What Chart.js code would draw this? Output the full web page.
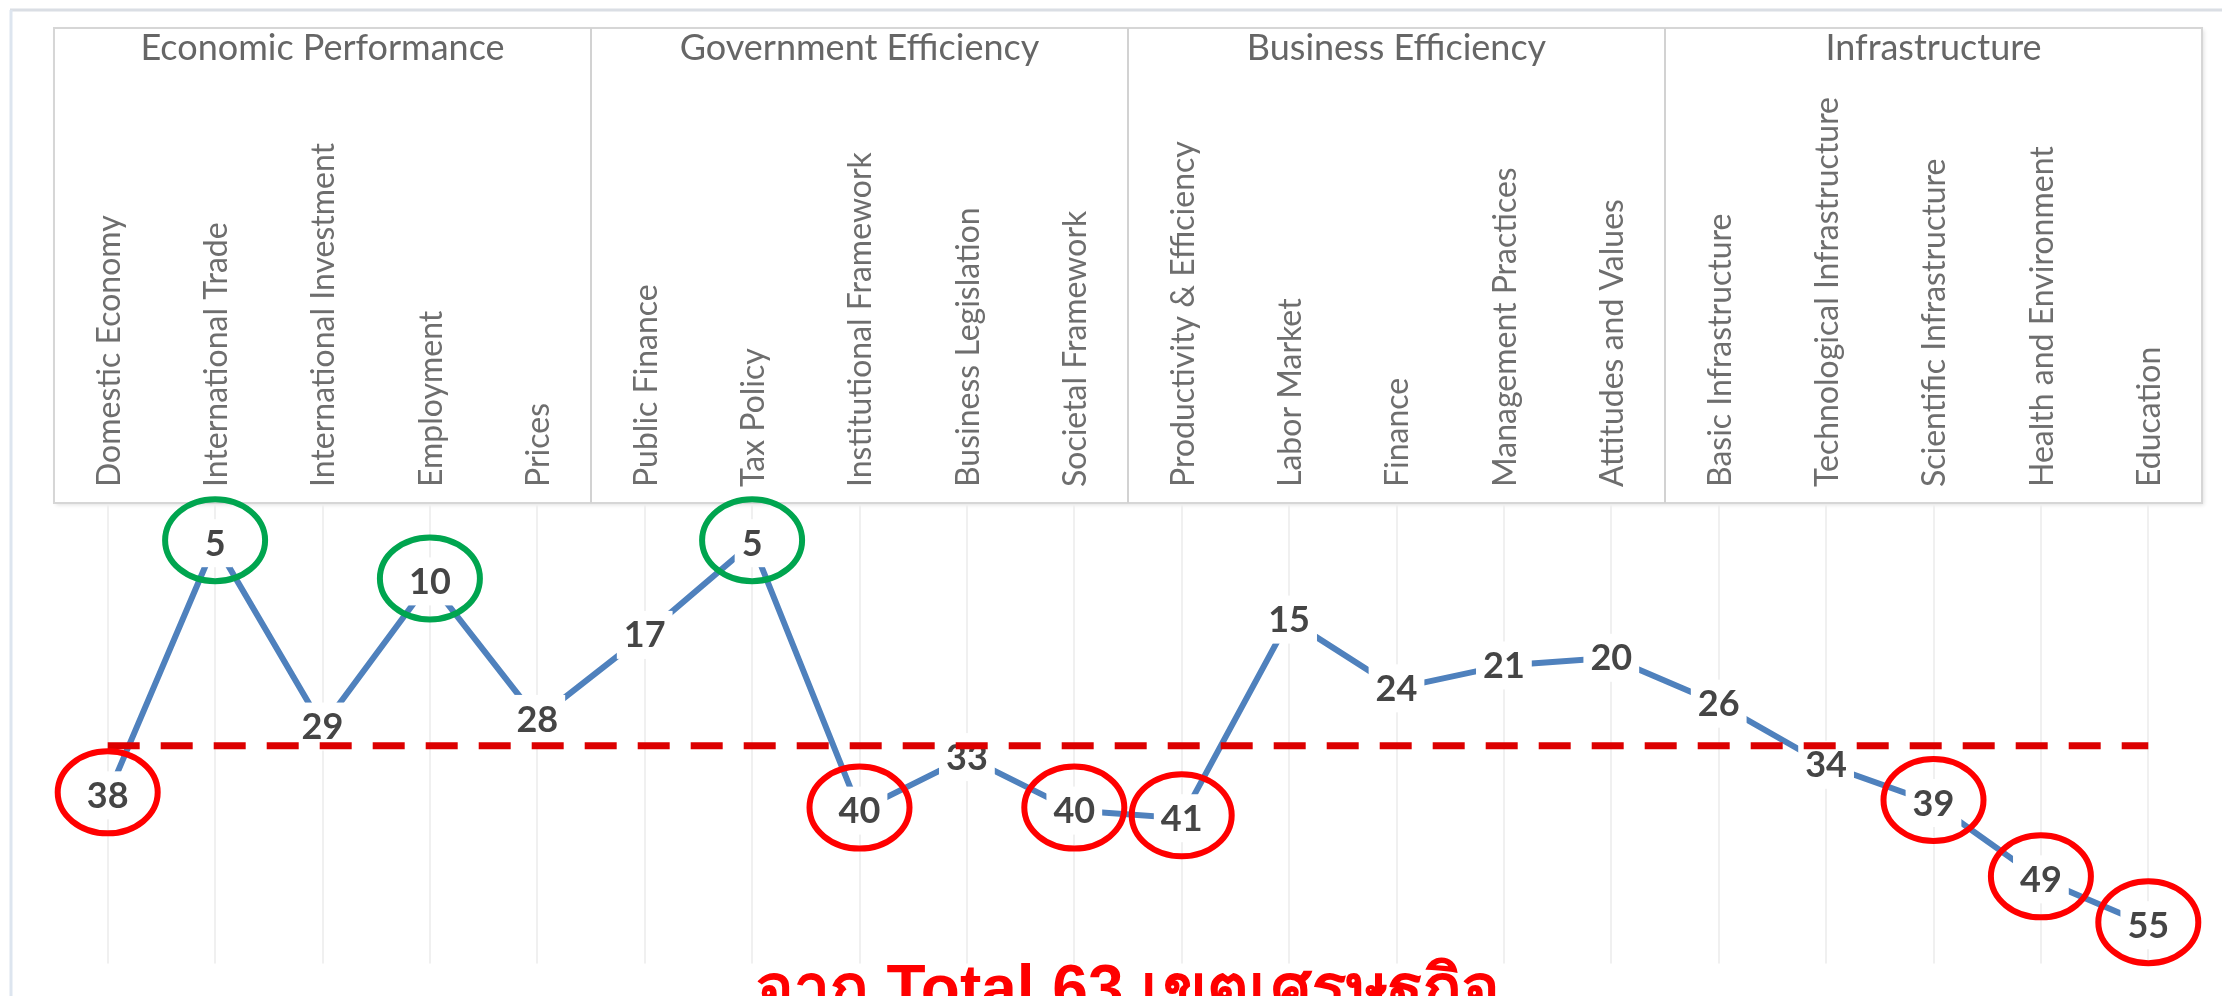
<!DOCTYPE html>
<html>
<head>
<meta charset="utf-8">
<script src="https://cdn.jsdelivr.net/npm/chart.js@4.4.1/dist/chart.umd.min.js"></script>
<style>
    html, body { margin: 0; padding: 0; overflow: hidden; background: #fff; }
    #wrap { width: 2222px; height: 1040px; position: relative; }
</style>
</head>
<body>
<div id="wrap"><canvas id="rankChart"></canvas></div>
<script>
// ============================================
// Competitiveness sub-factor ranking (out of 63)
// ============================================

const factorGroups = ['Economic Performance', 'Government Efficiency', 'Business Efficiency', 'Infrastructure'];

const subFactors = [
    'Domestic Economy', 'International Trade', 'International Investment', 'Employment', 'Prices',
    'Public Finance', 'Tax Policy', 'Institutional Framework', 'Business Legislation', 'Societal Framework',
    'Productivity & Efficiency', 'Labor Market', 'Finance', 'Management Practices', 'Attitudes and Values',
    'Basic Infrastructure', 'Technological Infrastructure', 'Scientific Infrastructure', 'Health and Environment', 'Education'
];

const ranks = [38, 5, 29, 10, 28, 17, 5, 40, 33, 40, 41, 15, 24, 21, 20, 26, 34, 39, 49, 55];

const midRank = 31.5;          // half of 63 economies
const strongPoints = [1, 3, 6];
const weakPoints = [0, 7, 9, 10, 17, 18, 19];

const titleText = 'จาก Total 63 เขตเศรษฐกิจ';

const LABEL_FONT = 'Lato, "Open Sans", sans-serif';

// header box, outer frame and group separators
const headerPlugin = {
    id: 'header',
    beforeDraw(chart) {
        const { ctx, chartArea } = chart;
        const x = chart.scales.x;
        const boxTop = chart.options.layout.padding.top;
        ctx.save();

        // outer frame
        ctx.strokeStyle = '#dadee4';
        ctx.lineWidth = 3;
        ctx.beginPath();
        ctx.moveTo(10, 10);
        ctx.lineTo(chart.width, 10);
        ctx.stroke();
        ctx.strokeStyle = '#dde5ef';
        ctx.beginPath();
        ctx.moveTo(11, 10);
        ctx.lineTo(11, chart.height);
        ctx.stroke();

        // box
        ctx.shadowColor = 'rgba(0, 0, 0, 0.12)';
        ctx.shadowBlur = 4;
        ctx.shadowOffsetX = 2;
        ctx.shadowOffsetY = 2;
        ctx.fillStyle = '#fff';
        ctx.fillRect(chartArea.left, boxTop, chartArea.right - chartArea.left, chartArea.top - 2 - boxTop);
        ctx.shadowColor = 'transparent';
        ctx.strokeStyle = '#d6d6d6';
        ctx.lineWidth = 2;
        ctx.strokeRect(chartArea.left, boxTop, chartArea.right - chartArea.left, chartArea.top - 2 - boxTop);

        // separators between the four factor groups
        const perGroup = subFactors.length / factorGroups.length;
        ctx.strokeStyle = '#d2d2d2';
        for (let g = 1; g < factorGroups.length; g++) {
            const sx = (x.getPixelForValue(g * perGroup - 1) + x.getPixelForValue(g * perGroup)) / 2;
            ctx.beginPath();
            ctx.moveTo(sx, boxTop);
            ctx.lineTo(sx, chartArea.top - 2);
            ctx.stroke();
        }
        ctx.restore();
    }
};

// rank labels with white backdrop, drawn right after the rank line
const rankLabelPlugin = {
    id: 'rankLabels',
    afterDatasetDraw(chart, args) {
        if (args.index !== 0) return;
        const { ctx } = chart;
        const meta = chart.getDatasetMeta(0);
        ctx.save();
        ctx.font = 'bold 36px ' + LABEL_FONT;
        ctx.textAlign = 'center';
        ctx.textBaseline = 'middle';
        meta.data.forEach((pt, i) => {
            const txt = String(ranks[i]);
            const w = ctx.measureText(txt).width;
            ctx.fillStyle = '#fff';
            ctx.fillRect(pt.x - w / 2 - 7, pt.y - 24, w + 14, 48);
            ctx.fillStyle = '#454545';
            ctx.fillText(txt, pt.x, pt.y + 1);
        });
        ctx.restore();
    }
};

// highlight circles round strong / weak ranks
const circlePlugin = {
    id: 'circles',
    afterDraw(chart) {
        const { ctx } = chart;
        const meta = chart.getDatasetMeta(0);
        ctx.save();
        ctx.lineWidth = 6;
        const ring = (idx, color) => {
            const pt = meta.data[idx];
            ctx.strokeStyle = color;
            ctx.beginPath();
            ctx.ellipse(pt.x, pt.y - 3, 50, 41, 0, 0, Math.PI * 2);
            ctx.stroke();
        };
        strongPoints.forEach(i => ring(i, '#00a54f'));
        weakPoints.forEach(i => ring(i, '#ff0000'));
        ctx.restore();
    }
};

const ctx = document.getElementById('rankChart').getContext('2d');

new Chart(ctx, {
    type: 'line',
    data: {
        labels: subFactors,
        datasets: [
            {
                label: 'Rank',
                data: ranks,
                xAxisID: 'x',
                yAxisID: 'y',
                borderColor: '#4f81bd',
                borderWidth: 6,
                pointRadius: 0,
                tension: 0,
                fill: false,
                order: 1
            },
            {
                label: 'Half of 63',
                data: subFactors.map(() => midRank),
                xAxisID: 'x',
                yAxisID: 'y',
                borderColor: '#dc0000',
                borderWidth: 7,
                borderDash: [32, 21],
                borderCapStyle: 'butt',
                pointRadius: 0,
                fill: false,
                order: 0
            }
        ]
    },
    options: {
        responsive: true,
        maintainAspectRatio: false,
        animation: false,
        layout: {
            padding: { top: 28, left: 54, right: 20, bottom: 19 }
        },
        plugins: {
            legend: { display: false },
            tooltip: { enabled: false },
            title: {
                display: true,
                position: 'bottom',
                text: titleText,
                color: '#ff0000',
                font: { family: '"Liberation Sans Narrow", "Liberation Sans", sans-serif', size: 64, weight: 'bold', lineHeight: 0.9 },
                padding: 0
            }
        },
        scales: {
            xg: {
                type: 'category',
                labels: factorGroups,
                position: 'top',
                offset: true,
                weight: 1,
                grid: { display: false },
                border: { display: false },
                ticks: {
                    color: '#666666',
                    font: { family: LABEL_FONT, size: 36 },
                    padding: 2,
                    autoSkip: false,
                    maxRotation: 0
                },
                afterFit: s => { s.height = 52; }
            },
            x: {
                type: 'category',
                position: 'top',
                offset: true,
                weight: 0,
                grid: {
                    color: '#f0f0f0',
                    lineWidth: 2,
                    offset: false,
                    drawTicks: false
                },
                border: { display: false },
                ticks: {
                    color: '#6e6e6e',
                    font: { family: LABEL_FONT, size: 32 },
                    padding: 18,
                    labelOffset: 40,
                    autoSkip: false,
                    minRotation: 90,
                    maxRotation: 90
                },
                afterFit: s => { s.height = 425; }
            },
            y: {
                display: false,
                reverse: true,
                min: 0,
                max: 60
            }
        }
    },
    plugins: [headerPlugin, rankLabelPlugin, circlePlugin]
});
</script>
</body>
</html>
